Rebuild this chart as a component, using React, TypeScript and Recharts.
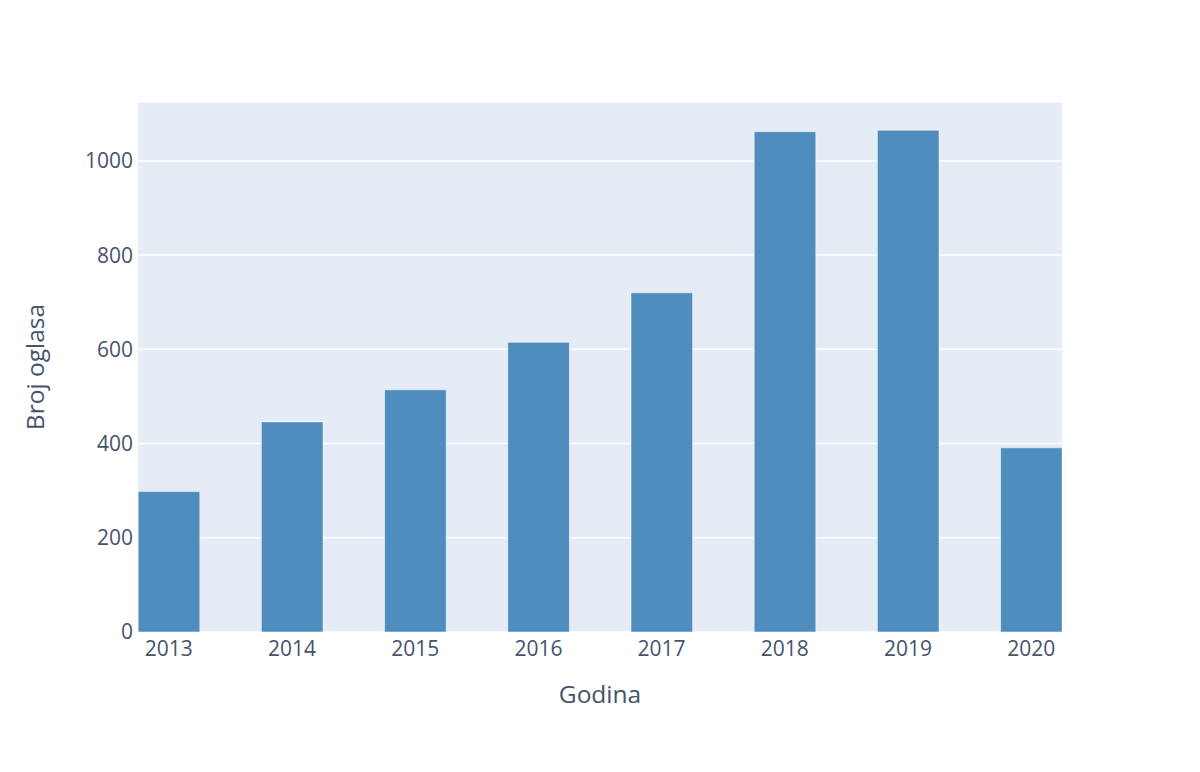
import React from "react";
import {
  BarChart,
  Bar,
  XAxis,
  YAxis,
  CartesianGrid,
  Label,
} from "recharts";

const years = [2013, 2014, 2015, 2016, 2017, 2018, 2019, 2020];
const counts = [298, 446, 514, 615, 720, 1062, 1065, 391];
const yTicks = [0, 200, 400, 600, 800, 1000];

const data = years.map((year, i) => ({ year, count: counts[i] }));

const FONT = '"Open Sans", verdana, arial, sans-serif';
const TEXT = "#46536a";

const XTitle = ({ viewBox }: any) => (
  <text
    x={viewBox.x + viewBox.width / 2}
    y={viewBox.y + 61}
    textAnchor="middle"
    dominantBaseline="central"
    fontFamily={FONT}
    fontSize={24.5}
    fill={TEXT}>
    Godina
  </text>
);

const YTitle = ({ viewBox }: any) => {
  const cx = 34;
  const cy = viewBox.y + viewBox.height / 2;
  return (
    <text
      x={cx}
      y={cy}
      transform={`rotate(-90 ${cx} ${cy})`}
      textAnchor="middle"
      dominantBaseline="central"
      fontFamily={FONT}
      fontSize={24.5}
      fill={TEXT}>
      Broj oglasa
    </text>
  );
};

export default function App() {
  return (
    <div
      style={{
        position: "absolute",
        left: 0,
        top: 0,
        width: 1200,
        height: 772,
        background: "#fff",
      }}>
      <BarChart
        width={1200}
        height={772}
        data={data}
        margin={{ top: 102, right: 138, left: 0, bottom: 0 }}>
        <CartesianGrid
          vertical={false}
          stroke="#ffffff"
          strokeWidth={1.5}
          fill="#E5ECF6"
        />
        <XAxis
          dataKey="year"
          type="number"
          domain={[2012.75, 2020.25]}
          ticks={years}
          allowDataOverflow
          height={140}
          axisLine={false}
          tickLine={false}
          tickSize={0}
          tickMargin={9}
          tick={{ fill: TEXT, fontSize: 21, fontFamily: FONT }}>
          <Label content={<XTitle />} />
        </XAxis>
        <YAxis
          domain={[0, 1125]}
          ticks={yTicks}
          allowDataOverflow
          width={138}
          axisLine={false}
          tickLine={false}
          tickSize={0}
          tickMargin={5}
          tick={{ fill: TEXT, fontSize: 21, fontFamily: FONT }}>
          <Label content={<YTitle />} />
        </YAxis>
        <Bar
          dataKey="count"
          fill="#4e8dbd"
          stroke="#ffffff"
          strokeWidth={0.5}
          barSize={61.6}
          isAnimationActive={false}
        />
      </BarChart>
    </div>
  );
}
